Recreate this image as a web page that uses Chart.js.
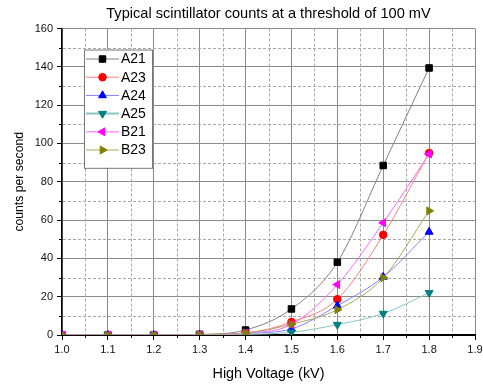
<!DOCTYPE html>
<html>
<head>
<meta charset="utf-8">
<script src="https://cdn.jsdelivr.net/npm/chart.js@4/dist/chart.umd.min.js"></script>
<style>
  html, body { margin: 0; padding: 0; background: #fff; }
  #wrap { width: 483px; height: 385px; }
</style>
</head>
<body>
<div id="wrap"><canvas id="chart"></canvas></div>
<script>
// High voltage settings (kV)
const voltages = [1.0, 1.1, 1.2, 1.3, 1.4, 1.5, 1.6, 1.7, 1.8];

// counts per second for each scintillator
const a21 = [0, 0, 0, 0.3, 2.6, 13.6, 38.0, 88.5, 139.4];
const a23 = [0, 0, 0, 0.1, 1.0, 6.8, 18.7, 52.3, 95.0];
const a24 = [0, 0, 0, 0.1, 0.8, 3.2, 15.3, 30.3, 53.8];
const a25 = [0, 0, 0, 0, 0.3, 1.4, 5.4, 11.2, 22.0];
const b21 = [0, 0, 0, 0.1, 1.0, 5.5, 26.3, 58.6, 94.5];
const b23 = [0, 0, 0, 0.1, 1.0, 5.6, 13.2, 29.9, 64.8];

const seriesNames = ['A21', 'A23', 'A24', 'A25', 'B21', 'B23'];
const seriesValues = [a21, a23, a24, a25, b21, b23];

// axis ranges / ticks
const xMin = 1.0, xMax = 1.9, xStep = 0.1;
const yMin = 0, yMax = 160, yStep = 20;

const FONT = "'Liberation Sans', Arial, sans-serif";

// marker / line look per series
const styles = [
  { point: '#000000', line: '#808080', shape: 'rect', rot: 0 },
  { point: '#ff0000', line: '#ff8080', shape: 'circle', rot: 0 },
  { point: '#0000ff', line: '#8080ff', shape: 'triangle', rot: 0 },
  { point: '#008080', line: '#8cc4c4', shape: 'triangle', rot: 180 },
  { point: '#ff00ff', line: '#ff66ff', shape: 'triangle', rot: 270 },
  { point: '#808000', line: '#a8a860', shape: 'triangle', rot: 90 }
];

const datasets = seriesNames.map((name, i) => ({
  label: name,
  data: voltages.map((v, j) => ({ x: v, y: seriesValues[i][j] })),
  borderColor: styles[i].line,
  backgroundColor: styles[i].point,
  pointBorderColor: styles[i].point,
  pointBackgroundColor: styles[i].point,
  pointStyle: styles[i].shape,
  pointRotation: styles[i].rot,
  pointRadius: styles[i].shape === 'circle' ? 3.8 : 4.6,
  pointBorderWidth: 1,
  borderWidth: 1,
  cubicInterpolationMode: 'monotone',
  order: seriesNames.length - i
}));

// dashed minor grid lines + short minor ticks
const minorGrid = {
  id: 'minorGrid',
  beforeDatasetsDraw(chart) {
    const { ctx, chartArea: a, scales: { x, y } } = chart;
    ctx.save();
    ctx.lineWidth = 1;
    ctx.strokeStyle = '#a8a8a8';
    ctx.setLineDash([3, 2]);
    for (let v = xMin + xStep / 2; v < xMax; v += xStep) {
      const px = Math.round(x.getPixelForValue(v)) + 0.5;
      ctx.beginPath(); ctx.moveTo(px, a.top); ctx.lineTo(px, a.bottom - 1); ctx.stroke();
    }
    for (let v = yMin + yStep / 2; v < yMax; v += yStep) {
      const py = Math.round(y.getPixelForValue(v)) + 0.5;
      ctx.beginPath(); ctx.moveTo(a.left + 1, py); ctx.lineTo(a.right, py); ctx.stroke();
    }
    ctx.setLineDash([]);
    ctx.strokeStyle = '#000';
    for (let v = xMin + xStep / 2; v < xMax; v += xStep) {
      const px = Math.round(x.getPixelForValue(v)) + 0.5;
      ctx.beginPath(); ctx.moveTo(px, a.bottom); ctx.lineTo(px, a.bottom + 3); ctx.stroke();
    }
    for (let v = yMin + yStep / 2; v < yMax; v += yStep) {
      const py = Math.round(y.getPixelForValue(v)) + 0.5;
      ctx.beginPath(); ctx.moveTo(a.left, py); ctx.lineTo(a.left - 3, py); ctx.stroke();
    }
    ctx.restore();
  }
};

// boxed legend inside the plot, line through marker like the original
const boxLegend = {
  id: 'boxLegend',
  afterDraw(chart) {
    const { ctx, chartArea: a } = chart;
    const left = a.left + 22, top = a.top + 21, w = 68, rowH = 18.2;
    const h = rowH * seriesNames.length + 0.5 * rowH;
    ctx.save();
    ctx.fillStyle = '#fff';
    ctx.fillRect(left, top, w, h);
    ctx.strokeStyle = '#777';
    ctx.lineWidth = 1;
    ctx.strokeRect(left + 0.5, top + 0.5, w, h);
    chart.data.datasets.forEach((ds, i) => {
      const cy = top + 9.5 + i * rowH;
      ctx.strokeStyle = ds.borderColor;
      ctx.lineWidth = i === 3 ? 2 : 1;
      ctx.beginPath(); ctx.moveTo(left + 2, cy); ctx.lineTo(left + 35, cy); ctx.stroke();
      ctx.fillStyle = ds.pointBackgroundColor;
      ctx.strokeStyle = ds.pointBorderColor;
      ctx.lineWidth = 1;
      Chart.helpers.drawPoint(ctx, {
        pointStyle: ds.pointStyle,
        rotation: ds.pointRotation,
        radius: ds.pointRadius,
        borderWidth: 1
      }, left + 18.5, cy);
      ctx.fillStyle = '#000';
      ctx.font = '14px ' + FONT;
      ctx.textBaseline = 'middle';
      ctx.textAlign = 'left';
      ctx.fillText(ds.label, left + 37, cy + 0.5);
    });
    ctx.restore();
  }
};

new Chart(document.getElementById('chart'), {
  type: 'line',
  data: { datasets },
  plugins: [minorGrid, boxLegend],
  options: {
    responsive: true,
    maintainAspectRatio: false,
    animation: false,
    layout: { padding: { top: 1, right: 8, left: 0, bottom: 0 } },
    plugins: {
      legend: { display: false },
      tooltip: { enabled: false },
      title: {
        display: true,
        fullSize: false,
        text: 'Typical scintillator counts at a threshold of 100 mV',
        color: '#000',
        font: { family: FONT, size: 14.6, weight: 'normal' },
        padding: { top: 4, bottom: 6 }
      }
    },
    scales: {
      x: {
        type: 'linear',
        min: xMin,
        max: xMax,
        afterFit: s => { s.height = 50; s.paddingRight = 0; },
        ticks: {
          stepSize: xStep,
          color: '#111',
          padding: 3,
          font: { family: FONT, size: 11 },
          callback: v => v.toFixed(1)
        },
        grid: { color: '#8a8a8a', lineWidth: 1, tickLength: 5, tickColor: '#000' },
        border: { color: '#000', width: 2 },
        title: {
          display: true,
          text: 'High Voltage (kV)',
          color: '#000',
          font: { family: FONT, size: 14.4 },
          padding: { top: 4, bottom: 2 }
        }
      },
      y: {
        min: yMin,
        max: yMax,
        afterFit: s => { s.width = 62; },
        ticks: {
          stepSize: yStep,
          color: '#111',
          padding: 4,
          font: { family: FONT, size: 11 }
        },
        grid: { color: '#8a8a8a', lineWidth: 1, tickLength: 5, tickColor: '#000' },
        border: { color: '#000', width: 1.5 },
        title: {
          display: true,
          text: 'counts per second',
          color: '#000',
          font: { family: FONT, size: 12.2 },
          padding: { top: 12, bottom: 8 }
        }
      }
    }
  }
});
</script>
</body>
</html>
